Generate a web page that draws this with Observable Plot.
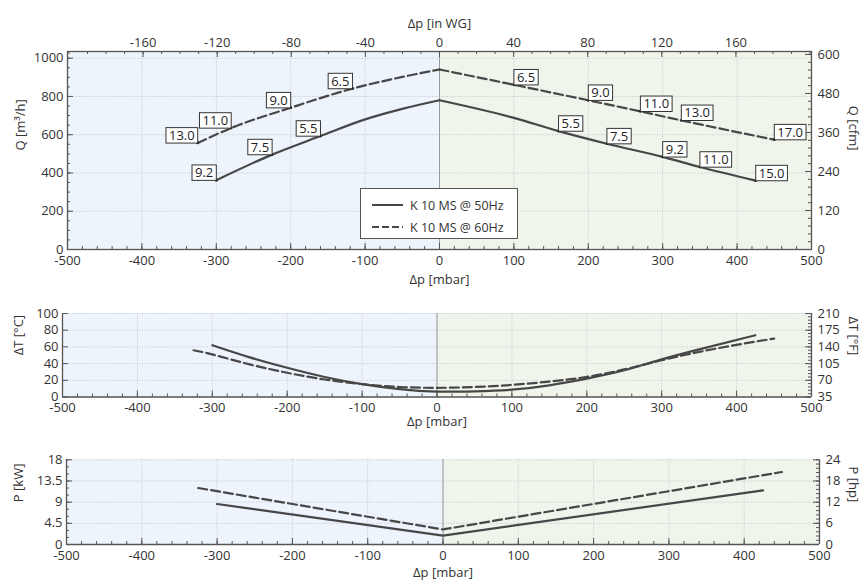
<!DOCTYPE html>
<html><head><meta charset="utf-8">
<script src="https://cdn.jsdelivr.net/npm/d3@7"></script>
<script src="https://cdn.jsdelivr.net/npm/@observablehq/plot@0.6"></script>
<style>
body{margin:0;background:#fff;}
#wrap{position:relative;width:864px;height:582px;font-family:'Open Sans',sans-serif;}
#wrap svg{position:absolute;left:0;overflow:visible;}
#legend{position:absolute;left:360px;top:188px;width:156px;height:49px;border:1px solid #555;background:#fff;font:12.5px 'Open Sans',sans-serif;color:#333;}
#legend .row{position:absolute;left:11px;height:16px;display:flex;align-items:center;}
#legend svg{position:static;margin-right:7px;}
</style></head><body><div id="wrap"></div>
<script>
// ---------- data ----------
const seriesNames = ["K 10 MS @ 50Hz", "K 10 MS @ 60Hz"];

// Volume flow Q [m3/h] vs differential pressure [mbar]
const dpQ50 = [-300, -225, -160, -100, -50, 0, 100, 160, 225, 300, 350, 425];
const q50   = [362, 496, 593, 680, 735, 780, 688, 619, 553, 484, 431, 360];
const q50Labels = ["9.2", "7.5", "5.5", "", "", "", "", "5.5", "7.5", "9.2", "11.0", "15.0"];

const dpQ60 = [-325, -280, -200, -117, -50, 0, 100, 200, 270, 325, 450];
const q60   = [557, 635, 741, 841, 902, 941, 861, 780, 722, 675, 574];
const q60Labels = ["13.0", "11.0", "9.0", "6.5", "", "", "6.5", "9.0", "11.0", "13.0", "17.0"];

// Temperature rise dT [°C]
const dpT50 = [-300, -250, -200, -150, -100, -50, 0, 50, 100, 150, 200, 250, 300, 350, 425];
const t50   = [62, 47.5, 35, 24, 15.5, 9.5, 6.5, 6.8, 8.8, 14, 22, 32, 45, 57, 74];
const dpT60 = [-325, -300, -250, -200, -150, -100, -50, 0, 50, 100, 150, 200, 250, 300, 350, 400, 450];
const t60   = [56, 51, 39, 29, 21, 15.5, 12, 11, 12, 14.5, 18.5, 24, 33, 44, 54, 62.5, 70];

// Power P [kW]
const dpP50 = [-300, 0, 425];
const p50   = [8.6, 1.9, 11.5];
const dpP60 = [-325, 0, 450];
const p60   = [12.0, 3.2, 15.4];

// axes / ticks
const xDomain = [-500, 500];
const xMajor = [-500, -400, -300, -200, -100, 0, 100, 200, 300, 400, 500];
const inwgTicks = [-160, -120, -80, -40, 0, 40, 80, 120, 160];
const qTicks = [0, 200, 400, 600, 800, 1000];
const cfmTicks = [0, 120, 240, 360, 480, 600];
const tTicks = [0, 20, 40, 60, 80, 100];
const fTicks = [35, 70, 105, 140, 175, 210];
const pTicks = [0, 4.5, 9, 13.5, 18];
const hpTicks = [0, 6, 12, 18, 24];

// unit conversions used for secondary axes
const INWG = 2.49;   // mbar per in WG
const CFM = 1.699;   // m3/h per cfm
const HP = 0.75;     // kW per hp (axis alignment)
const fToC = f => (f - 35) / 1.75;

// ---------- style ----------
const AX = "#555", TXT = "#333", GRID = "#c3c7cc", LINE = "#474747";
const BG_L = "#eef4fb", BG_R = "#f0f5ec";
const FS = 13;

function rows(dp, v, lab) {
  return dp.flatMap((x, i) => {
    const d = {x, y: v[i], lab: lab ? lab[i] : ""};
    return x === 0 ? [{...d, side: "L"}, {...d, side: "R"}] : [{...d, side: x < 0 ? "L" : "R"}];
  });
}

function common(o) {
  const H = o.height - o.mt - o.mb, W = 864 - o.ml - o.mr;
  const xMinor = d3.range(-500, 501, 20);
  return {H, W, marks: [
    Plot.rect([xDomain], {x1: d => d[0], x2: () => 0, fill: BG_L}),
    Plot.rect([xDomain], {x1: () => 0, x2: d => d[1], fill: BG_R}),
    Plot.ruleX(xMajor, {stroke: GRID, strokeDasharray: "1,1.5"}),
    Plot.ruleY(o.yTicks, {stroke: GRID, strokeDasharray: "1,1.5"}),
    Plot.ruleX([0], {stroke: "#9a9a9a"}),
    // inward ticks bottom
    Plot.ruleX(xMinor, {stroke: AX, insetTop: H - 3}),
    Plot.ruleX(xMajor, {stroke: AX, insetTop: H - 6}),
    // inward ticks left
    Plot.ruleY(o.yMinor, {stroke: AX, insetRight: W - 3}),
    Plot.ruleY(o.yTicks, {stroke: AX, insetRight: W - 6}),
    // inward ticks right
    Plot.ruleY(o.rMinor, {stroke: AX, insetLeft: W - 3}),
    Plot.ruleY(o.rTicks, {stroke: AX, insetLeft: W - 6}),
    Plot.axisX(xMajor, {anchor: "bottom", tickSize: 0, tickPadding: 6, tickFormat: d => String(d), fontSize: FS, color: TXT, label: null}),
    Plot.axisY(o.yTicks, {anchor: "left", tickSize: 0, tickPadding: 4, tickFormat: d => String(d), fontSize: FS, color: TXT, label: null}),
    Plot.axisY(o.rTicks, {anchor: "right", tickSize: 0, tickPadding: 6, tickFormat: o.rFormat, fontSize: FS, color: TXT, label: null}),
    Plot.text(["Δp [mbar]"], {frameAnchor: "bottom", dy: o.xTitleDy, text: d => d, fontSize: FS, fill: TXT}),
    Plot.text([o.yTitle], {frameAnchor: "left", dx: o.yTitleDx, rotate: -90, text: d => d, fontSize: FS, fill: TXT}),
    Plot.text([o.rTitle], {frameAnchor: "right", dx: o.rTitleDx, rotate: 90, text: d => d, fontSize: FS, fill: TXT})
  ]};
}

function make(o, marks) {
  const c = common(o);
  const svg = Plot.plot({
    width: 864, height: o.height,
    marginTop: o.mt, marginBottom: o.mb, marginLeft: o.ml, marginRight: o.mr,
    x: {domain: xDomain},
    y: {domain: o.yDomain},
    style: {fontFamily: "'Open Sans', sans-serif", fontSize: FS + "px", background: "transparent", color: TXT},
    marks: [...c.marks, ...marks(c), ...(o.frame ? [Plot.frame({stroke: AX, strokeWidth: 1.3})] :
      [Plot.ruleX(xDomain, {stroke: AX, strokeWidth: 1.3}), Plot.ruleY([o.yDomain[0]], {stroke: AX, strokeWidth: 1.3})])]
  });
  svg.style.top = o.top + "px";
  return svg;
}

const wrap = document.getElementById("wrap");

// ---------- panel 1: Q ----------
const r50 = rows(dpQ50, q50, q50Labels), r60 = rows(dpQ60, q60, q60Labels);
const lab = r => r.filter(d => d.lab && !(d.x === 0));
const LBLFILL = "#1e1e1e";
const p1 = make({
  top: 0, height: 292, mt: 51, mb: 43, ml: 67, mr: 53,
  yDomain: [0, 1035], yTicks: qTicks, yMinor: d3.range(0, 1001, 50),
  rTicks: cfmTicks.map(c => c * CFM), rMinor: d3.range(0, 601, 24).map(c => c * CFM),
  rFormat: d => String(Math.round(d / CFM)),
  xTitleDy: 34, yTitle: "Q [m³/h]", yTitleDx: -47, rTitle: "Q [cfm]", rTitleDx: 42, frame: true
}, c => [
  // top axis (in WG)
  Plot.ruleX(d3.range(-200, 201, 10).map(v => v * INWG), {stroke: AX, insetBottom: c.H - 3}),
  Plot.ruleX(inwgTicks.map(v => v * INWG), {stroke: AX, insetBottom: c.H - 6}),
  Plot.axisX(inwgTicks.map(v => v * INWG), {anchor: "top", tickSize: 0, tickPadding: 5, tickFormat: d => String(Math.round(d / INWG)), fontSize: FS, color: TXT, label: null}),
  Plot.text(["Δp [in WG]"], {frameAnchor: "top", dy: -33, text: d => d, fontSize: FS, fill: TXT}),
  Plot.line(r50, {x: "x", y: "y", z: "side", curve: "monotone-x", stroke: LINE, strokeWidth: 2.2}),
  Plot.line(r60, {x: "x", y: "y", z: "side", curve: "monotone-x", stroke: LINE, strokeWidth: 2.2, strokeDasharray: "9,4"}),
  Plot.dot([...lab(r50), ...lab(r60)], {x: "x", y: "y", r: 1.4, fill: "#222"}),
  Plot.text([...lab(r50), ...lab(r60)].filter(d => d.x < 0), {x: "x", y: "y", text: "lab", textAnchor: "end", lineAnchor: "bottom", dx: -3, dy: -3, fontSize: 13, fill: LBLFILL}),
  Plot.text([...lab(r50), ...lab(r60)].filter(d => d.x > 0), {x: "x", y: "y", text: "lab", textAnchor: "start", lineAnchor: "bottom", dx: 3, dy: -3, fontSize: 13, fill: LBLFILL})
]);

// ---------- panel 2: dT ----------
const p2 = make({
  top: 296, height: 136, mt: 17, mb: 35.5, ml: 62, mr: 53,
  yDomain: [0, 100], yTicks: tTicks, yMinor: [],
  rTicks: fTicks.map(fToC), rMinor: d3.range(0, 101, 4),
  rFormat: d => String(Math.round(d * 1.75 + 35)),
  xTitleDy: 29, yTitle: "ΔT [°C]", yTitleDx: -44, rTitle: "ΔT [°F]", rTitleDx: 42
}, c => [
  Plot.line(dpT50.map((x, i) => ({x, y: t50[i]})), {x: "x", y: "y", curve: "natural", stroke: LINE, strokeWidth: 2.2}),
  Plot.line(dpT60.map((x, i) => ({x, y: t60[i]})), {x: "x", y: "y", curve: "natural", stroke: LINE, strokeWidth: 2.2, strokeDasharray: "9,4"})
]);

// ---------- panel 3: P ----------
const p3 = make({
  top: 440, height: 142, mt: 19.3, mb: 38, ml: 66, mr: 45,
  yDomain: [0, 18], yTicks: pTicks, yMinor: d3.range(0, 18.01, 1.5),
  rTicks: hpTicks.map(h => h * HP), rMinor: d3.range(0, 24.01, 1.2).map(h => h * HP),
  rFormat: d => String(Math.round(d / HP)),
  xTitleDy: 32, yTitle: "P [kW]", yTitleDx: -48, rTitle: "P [hp]", rTitleDx: 34
}, c => [
  Plot.line(dpP50.map((x, i) => ({x, y: p50[i]})), {x: "x", y: "y", stroke: LINE, strokeWidth: 2.2}),
  Plot.line(dpP60.map((x, i) => ({x, y: p60[i]})), {x: "x", y: "y", stroke: LINE, strokeWidth: 2.2, strokeDasharray: "9,4"})
]);

wrap.append(p1, p2, p3);

// boxes behind the operating-point labels
p1.querySelectorAll(`g[aria-label="text"][fill="${LBLFILL}"] text`).forEach(t => {
  const b = t.getBBox();
  const r = document.createElementNS("http://www.w3.org/2000/svg", "rect");
  const top = b.y + 0.26 * b.height - 3, bottom = b.y + 0.785 * b.height + 3;
  r.setAttribute("x", b.x - 3);
  r.setAttribute("y", top);
  r.setAttribute("width", b.width + 6);
  r.setAttribute("height", bottom - top);
  r.setAttribute("fill", "#fff");
  r.setAttribute("stroke", "#333");
  r.setAttribute("stroke-width", "1");
  if (t.getAttribute("transform")) r.setAttribute("transform", t.getAttribute("transform"));
  t.parentNode.insertBefore(r, t);
});

// legend
const leg = document.createElement("div");
leg.id = "legend";
seriesNames.forEach((name, i) => {
  const row = document.createElement("div");
  row.className = "row";
  row.style.top = (8 + i * 22) + "px";
  row.innerHTML = `<svg width="31" height="8"><line x1="0" x2="31" y1="4" y2="4" stroke="${LINE}" stroke-width="2" ${i ? 'stroke-dasharray="7,3"' : ""}/></svg><span>${name}</span>`;
  leg.append(row);
});
wrap.append(leg);
</script></body></html>
